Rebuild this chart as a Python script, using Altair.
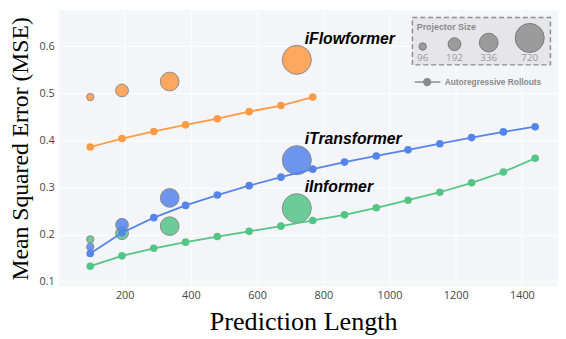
import altair as alt
import pandas as pd

# ---------------- data ----------------
LENGTHS = [96, 192, 288, 384, 480, 576, 672, 768, 864, 960, 1056, 1152, 1248, 1344, 1440]
IFLOW_LINE = [0.386, 0.404, 0.419, 0.433, 0.446, 0.461, 0.474, 0.492]
ITRANS_LINE = [0.160, 0.204, 0.236, 0.262, 0.284, 0.304, 0.322, 0.339, 0.354,
               0.367, 0.380, 0.393, 0.406, 0.418, 0.429]
IINF_LINE = [0.133, 0.155, 0.171, 0.184, 0.196, 0.207, 0.218, 0.230, 0.242,
             0.257, 0.273, 0.290, 0.310, 0.333, 0.362]

PROJ_SIZES = [96, 192, 336, 720]
IFLOW_BUB = [0.492, 0.506, 0.525, 0.571]
ITRANS_BUB = [0.174, 0.221, 0.278, 0.358]
IINF_BUB = [0.190, 0.203, 0.218, 0.256]

MODELS = ["iFlowformer", "iTransformer", "iInformer"]
LINE_COLORS = ["#ff7f0e", "#2f6bee", "#2dbd6e"]
BUB_COLORS = ["#ff9a45", "#5585ec", "#55c586"]

X_TICKS = [200, 400, 600, 800, 1000, 1200, 1400]
Y_TICKS = [0.1, 0.2, 0.3, 0.4, 0.5, 0.6]

# ---------------- tables ----------------
line_rows = []
for m, ys in zip(MODELS, [IFLOW_LINE, ITRANS_LINE, IINF_LINE]):
    for x, y in zip(LENGTHS, ys):
        line_rows.append({"model": m, "len": x, "mse": y})
lines_df = pd.DataFrame(line_rows)

bub_rows = []
order = {"iInformer": 0, "iTransformer": 1, "iFlowformer": 2}
for m, ys in zip(MODELS, [IFLOW_BUB, ITRANS_BUB, IINF_BUB]):
    for s, y in zip(PROJ_SIZES, ys):
        bub_rows.append({"model": m, "len": s, "mse": y, "proj": s, "ord": order[m]})
bub_df = pd.DataFrame(bub_rows)

label_df = pd.DataFrame({"model": MODELS,
                         "len": [PROJ_SIZES[-1]] * 3,
                         "mse": [IFLOW_BUB[-1], ITRANS_BUB[-1], IINF_BUB[-1]]})

# ---------------- scales ----------------
W, H = 506, 280
xscale = alt.Scale(domain=[2.4, 1509], nice=False, zero=False)
yscale = alt.Scale(domain=[0.0902, 0.676], nice=False, zero=False)
line_color = alt.Scale(domain=MODELS, range=LINE_COLORS)
bub_color = alt.Scale(domain=MODELS, range=BUB_COLORS)
size_scale = alt.Scale(type="linear", domain=PROJ_SIZES, range=[56, 169, 361, 870])

X = alt.X("len:Q", scale=xscale,
          axis=alt.Axis(values=X_TICKS, format="d", title="Prediction Length", grid=True,
                        titleX=247.5, titleY=44, titleBaseline="alphabetic", titleFontSize=26.5))
Y = alt.Y("mse:Q", scale=yscale,
          axis=alt.Axis(values=Y_TICKS, format=".1f", title="Mean Squared Error (MSE)", grid=True,
                        titleX=-32, titleBaseline="alphabetic", titleFontSize=24))

bubbles = alt.Chart(bub_df).mark_circle(opacity=0.85, stroke="#7a7a7a", strokeWidth=1).encode(
    x=X, y=Y,
    color=alt.Color("model:N", scale=bub_color, legend=None),
    size=alt.Size("proj:Q", scale=size_scale, legend=None),
    order=alt.Order("ord:Q"),
)

lines = alt.Chart(lines_df).mark_line(strokeWidth=1.8).encode(
    x=X, y=Y,
    color=alt.Color("model:N", scale=line_color, legend=None),
    detail="model:N",
)
dots = alt.Chart(lines_df).mark_circle(size=60, opacity=1).encode(
    x=X, y=Y,
    color=alt.Color("model:N", scale=line_color, legend=None),
)

labels = alt.Chart(label_df).mark_text(
    align="left", baseline="middle", dx=8, dy=-21,
    font="Liberation Sans", fontSize=16, fontWeight="bold", fontStyle="italic", color="black"
).encode(x=X, y=Y, text="model:N")

# ---------------- custom legend ----------------
one = pd.DataFrame({"a": [0]})
leg_box = alt.Chart(one).mark_rect(
    fill="#e4e4e8", fillOpacity=0.9, stroke="#8f8f8f", strokeWidth=1.5, strokeDash=[5, 3]
).encode(x=alt.value(358.3), x2=alt.value(498.3), y=alt.value(7.3), y2=alt.value(55.3))
leg_title = alt.Chart(one).mark_text(
    align="left", baseline="middle", font="Liberation Sans", fontSize=9, fontWeight="bold",
    color="#8a8a8a", text="Projector Size"
).encode(x=alt.value(362.7), y=alt.value(17))

leg_layers = [leg_box, leg_title]
leg_pos = [(368.7, 36.7), (401.0, 34.3), (435.7, 32.7), (477.3, 28.0)]
for s, (px, py) in zip(PROJ_SIZES, leg_pos):
    d = pd.DataFrame({"proj": [s], "lab": [str(s)]})
    leg_layers.append(alt.Chart(d).mark_circle(
        fill="#9b9b9b", opacity=1, stroke="#7a7a7a", strokeWidth=1
    ).encode(x=alt.value(px), y=alt.value(py),
             size=alt.Size("proj:Q", scale=size_scale, legend=None)))
    leg_layers.append(alt.Chart(d).mark_text(
        align="center", baseline="middle", font="Open Sans", fontSize=10, color="#9a9a9a"
    ).encode(x=alt.value(px), y=alt.value(48.7), text="lab:N"))

leg_line = alt.Chart(one).mark_rule(color="#8a8a8a", strokeWidth=1.5).encode(
    x=alt.value(360.7), x2=alt.value(386.7), y=alt.value(72.7))
leg_dot = alt.Chart(one).mark_circle(size=70, color="#8a8a8a", opacity=1).encode(
    x=alt.value(373.3), y=alt.value(72.7))
leg_text = alt.Chart(one).mark_text(
    align="left", baseline="middle", font="Liberation Sans", fontSize=8.5, fontWeight="bold",
    color="#8a8a8a", text="Autoregressive Rollouts"
).encode(x=alt.value(391), y=alt.value(72.7))
leg_layers += [leg_line, leg_dot, leg_text]

chart = alt.layer(bubbles, lines, dots, labels, *leg_layers).properties(
    width=W, height=H,
    autosize=alt.AutoSizeParams(type="none"),
    padding={"left": 52, "top": 0, "right": 0, "bottom": 51},
).configure_view(
    fill="#f3f5f9", stroke=None
).configure_axis(
    domain=False, ticks=False, gridColor="white", gridWidth=1,
    labelFont="Open Sans", labelFontSize=11, labelColor="#444444",
    titleFont="Liberation Serif", titleFontWeight="normal", titleColor="black",
).configure_axisX(labelPadding=3).configure_axisY(labelPadding=5)

chart.save("out.html", embed_options={"renderer": "svg", "actions": False})
